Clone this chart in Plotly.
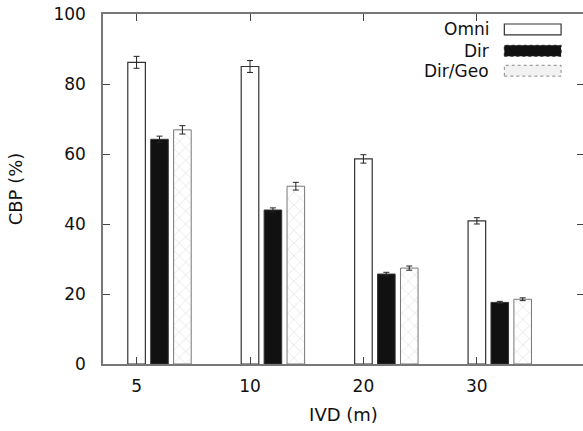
import plotly.graph_objects as go

categories = ["5", "10", "20", "30"]
series_names = ["Omni", "Dir", "Dir/Geo"]
omni = [86.2, 85.0, 58.6, 40.9]
omni_err = [1.7, 1.7, 1.2, 0.9]
dirv = [64.2, 44.0, 25.7, 17.6]
dir_err = [0.9, 0.6, 0.5, 0.3]
dirgeo = [66.9, 50.8, 27.4, 18.5]
dirgeo_err = [1.2, 1.1, 0.6, 0.4]
y_ticks = [0, 20, 40, 60, 80, 100]

FONT = "DejaVu Sans, Liberation Sans, Arial, sans-serif"
xpos = list(range(len(categories)))
bw = 0.155
step = 0.202

W = 586  # slightly wider than the window so the right frame line falls off-page
PLOT_W = W - 103

styles = [
    dict(marker=dict(color="white", line=dict(color="#333", width=1.2))),
    dict(marker=dict(color="#111", line=dict(color="#333", width=1))),
    dict(marker=dict(color="white", line=dict(color="#777", width=1),
                     pattern=dict(shape="x", fgcolor="#b5b5b5", size=9, solidity=0.12))),
]
values = [omni, dirv, dirgeo]
errs = [omni_err, dir_err, dirgeo_err]

fig = go.Figure()
for k, (name, vals, er) in enumerate(zip(series_names, values, errs)):
    fig.add_trace(go.Bar(
        x=xpos, y=vals, name=name, width=bw, offset=k * step - bw / 2,
        error_y=dict(type="data", array=er, color="#222", thickness=1, width=3),
        showlegend=False, **styles[k]))

# manual legend (text on left, sample on right, as in reference)
leg_y = [0.956, 0.895, 0.838]
leg_fill = ["white", "#111", "#f2f2f2"]
leg_line = [dict(color="#333", width=1.2), dict(color="#222", width=1, dash="dot"),
            dict(color="#888", width=1, dash="dot")]
tx = (493 - 103) / PLOT_W
bx0 = (506 - 103) / PLOT_W
bx1 = (563 - 103) / PLOT_W
for name, yy, fc, ln in zip(series_names, leg_y, leg_fill, leg_line):
    fig.add_annotation(xref="paper", yref="paper", x=tx, y=yy, text=name,
                       showarrow=False, xanchor="right", yanchor="middle",
                       font=dict(family=FONT, size=17, color="#111"))
    fig.add_shape(type="rect", xref="paper", yref="paper", x0=bx0, x1=bx1,
                  y0=yy - 0.0155, y1=yy + 0.0155, fillcolor=fc, line=ln)

axis_common = dict(showline=True, linecolor="#777", linewidth=1.5, mirror="ticks",
                   ticks="inside", ticklen=7, tickcolor="#444", tickwidth=1.3,
                   showgrid=False, zeroline=False,
                   tickfont=dict(family=FONT, size=17, color="#111"))

fig.update_layout(
    width=W, height=431,
    margin=dict(l=103, r=0, t=14, b=67),
    plot_bgcolor="white", paper_bgcolor="white",
    barmode="overlay",
    xaxis=dict(range=[-0.296, -0.296 + PLOT_W / 113.9], tickvals=xpos, ticktext=categories,
               ticklabelstandoff=6,
               title=dict(text="IVD (m)", font=dict(family=FONT, size=18, color="#111"), standoff=13),
               **axis_common),
    yaxis=dict(range=[0, 100], tickvals=y_ticks, ticklabelstandoff=12,
               title=dict(text="CBP (%)", font=dict(family=FONT, size=18, color="#111"), standoff=26),
               **axis_common),
)

fig.write_html("out.html", config={"displayModeBar": False},
               post_script="document.body.style.margin='0px';document.body.style.overflow='hidden';")
